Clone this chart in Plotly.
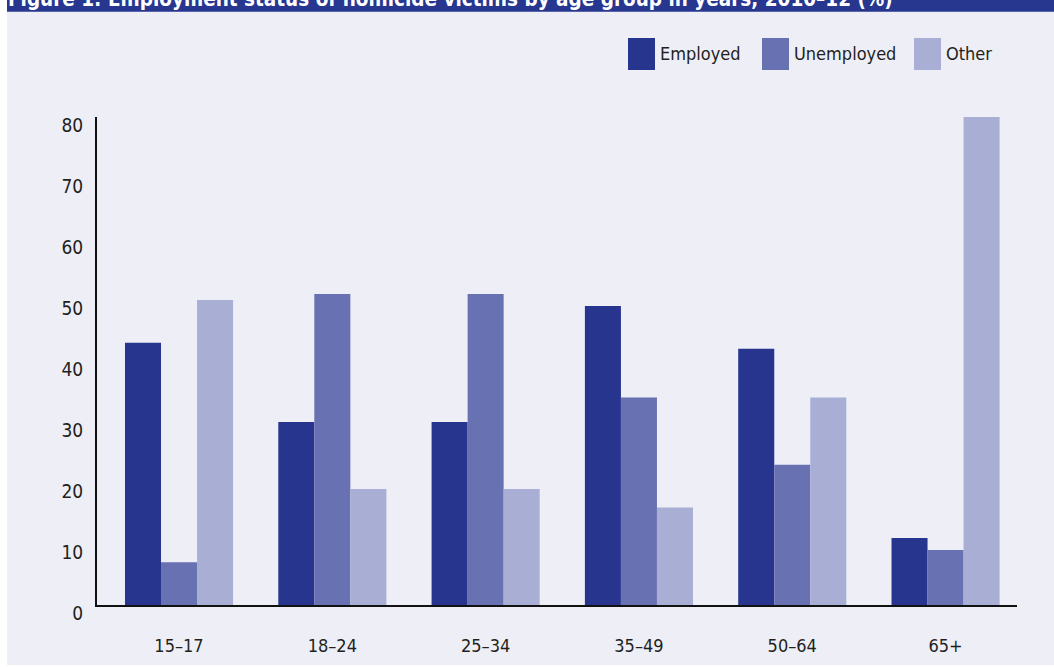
import plotly.graph_objects as go

categories = ["15–17", "18–24", "25–34", "35–49", "50–64", "65+"]
employed = [43, 30, 30, 49, 42, 11]
unemployed = [7, 51, 51, 34, 23, 9]
other = [50, 19, 19, 16, 34, 80]
series_names = ["Employed", "Unemployed", "Other"]
series_colors = ["#27358f", "#6871b1", "#a9afd4"]
y_ticks = [0, 10, 20, 30, 40, 50, 60, 70, 80]
title_text = "Figure 1: Employment status of homicide victims by age group in years, 2010–12 (%)"

W, H = 1054, 667
L, R, T, B = 97, 37, 117, 62
PW, PH = W - L - R, H - T - B
FONT = "Liberation Sans Narrow, Arial Narrow, DejaVu Sans Condensed, sans-serif"
BG = "#edeef6"
TXT = "#231f20"


def px2x(px):
    return (px - L) / PW


def px2y(py):
    return (H - B - py) / PH


fig = go.Figure()
for name, vals, col in zip(series_names, [employed, unemployed, other], series_colors):
    fig.add_trace(go.Bar(x=categories, y=vals, name=name, marker=dict(color=col, line=dict(width=0)),
                         showlegend=False))

shapes = [
    dict(type="rect", xref="paper", yref="paper", x0=px2x(7), x1=px2x(W + 2), y0=px2y(665), y1=px2y(11),
         fillcolor=BG, line=dict(width=0), layer="below"),
    dict(type="rect", xref="paper", yref="paper", x0=px2x(7), x1=px2x(W + 2), y0=px2y(11.7), y1=px2y(-2),
         fillcolor="#27368f", line=dict(width=0), layer="below"),
]
annotations = [
    dict(text="<b>" + title_text + "</b>", xref="paper", yref="paper", x=px2x(6), y=px2y(-1),
         xanchor="left", yanchor="middle", showarrow=False,
         font=dict(family=FONT, size=20.5, color="white")),
]

# custom legend
leg_sq_x = [628, 762, 914]
for name, col, sx in zip(series_names, series_colors, leg_sq_x):
    shapes.append(dict(type="rect", xref="paper", yref="paper", x0=px2x(sx), x1=px2x(sx + 27),
                       y0=px2y(70), y1=px2y(38), fillcolor=col, line=dict(width=0)))
    annotations.append(dict(text=name, xref="paper", yref="paper", x=px2x(sx + 30), y=px2y(53),
                            xanchor="left", yanchor="middle", showarrow=False,
                            font=dict(family=FONT, size=18, color=TXT)))

fig.update_layout(
    width=W, height=H,
    margin=dict(l=L, r=R, t=T, b=B, autoexpand=False),
    paper_bgcolor="white",
    plot_bgcolor="rgba(0,0,0,0)",
    barmode="group", bargap=0.295, bargroupgap=0,
    shapes=shapes, annotations=annotations,
    font=dict(family=FONT, size=18, color=TXT),
    xaxis=dict(range=[-0.535, 5.466], showgrid=False, zeroline=False, showline=True, automargin=False,
               linecolor="#111", linewidth=2, ticks="", ticklabelstandoff=23,
               tickfont=dict(family=FONT, size=18, color=TXT), fixedrange=True),
    yaxis=dict(range=[0, 80], tickvals=y_ticks, showgrid=False, zeroline=False, showline=True, automargin=False,
               linecolor="#111", linewidth=2, ticks="", ticklabelstandoff=8, ticklabelshift=8,
               tickfont=dict(family=FONT, size=19, color=TXT), fixedrange=True),
)

fig.write_html("out.html", config={"displayModeBar": False},
               post_script="document.body.style.margin='0';document.body.style.overflow='hidden';")
